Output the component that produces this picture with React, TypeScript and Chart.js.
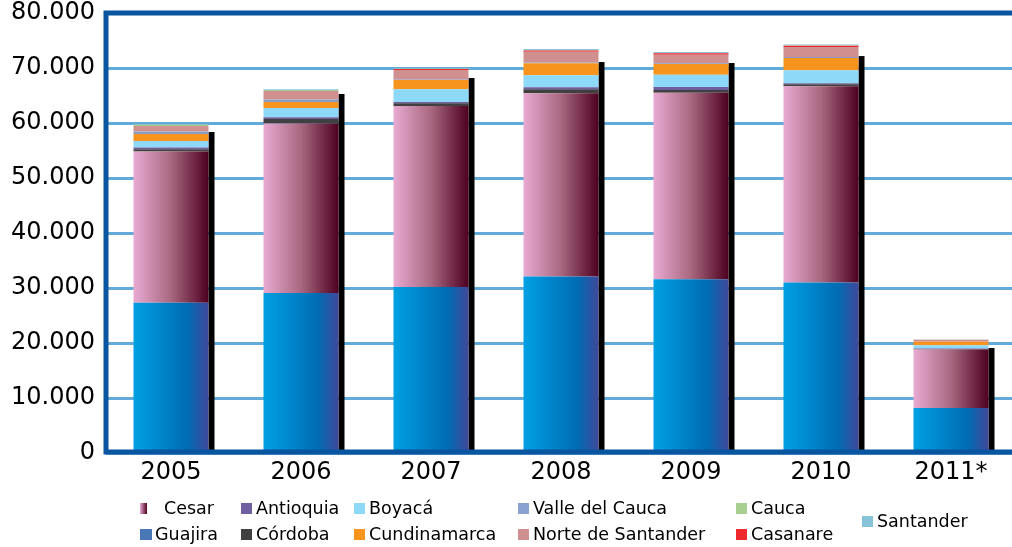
import React, { useEffect, useRef } from 'react';
import { Chart, registerables } from 'chart.js';

Chart.register(...registerables);

const years = ['2005', '2006', '2007', '2008', '2009', '2010', '2011*'];

const guajira = [27300, 29100, 30200, 32100, 31600, 31000, 8200];
const cesar = [27500, 30800, 32900, 33300, 33900, 35700, 10600];
const cordoba = [440, 850, 490, 730, 480, 360, 100];
const antioquia = [290, 300, 240, 360, 545, 180, 100];
const boyaca = [1220, 1700, 2310, 2180, 2240, 2360, 610];
const cundinamarca = [1270, 1090, 1690, 2180, 1940, 2240, 600];
const valleDelCauca = [420, 420, 100, 150, 150, 150, 0];
const norteDeSantander = [1030, 1570, 1690, 1940, 1570, 1820, 360];
const casanare = [0, 0, 180, 250, 250, 250, 0];
const cauca = [200, 150, 50, 50, 50, 50, 0];
const santander = [150, 150, 130, 200, 180, 180, 50];

// top of the black drop-shadow drawn to the right of each column (value units)
const shadowTotals = [58360, 65270, 68180, 71080, 70900, 72170, 19090];

const yTicks = [0, 10000, 20000, 30000, 40000, 50000, 60000, 70000, 80000];

const BAR_PCT = 0.577;

const fmt = (v: number) => (v === 0 ? '0' : String(v).replace(/\B(?=(\d{3})+(?!\d))/g, '.'));

const gradientFill = (stops: [number, string][]) => (ctx: any) => {
  const chart = ctx.chart;
  const xs = chart.scales && chart.scales.x;
  if (!xs || ctx.type !== 'data' || !chart.chartArea) return stops[0][1];
  const cx = xs.getPixelForValue(ctx.dataIndex);
  const half = (xs.width / years.length) * BAR_PCT / 2;
  const g = chart.ctx.createLinearGradient(cx - half, 0, cx + half, 0);
  stops.forEach(([o, c]) => g.addColorStop(o, c));
  return g;
};

const guajiraStops: [number, string][] = [[0, '#00a0e2'], [0.72, '#006cb4'], [1, '#40489a']];
const cesarStops: [number, string][] = [[0, '#e8aad2'], [0.5, '#a86880'], [1, '#4e0020']];

const seriesDefs = [
  { label: 'Guajira', data: guajira, color: gradientFill(guajiraStops) },
  { label: 'Cesar', data: cesar, color: gradientFill(cesarStops) },
  { label: 'Córdoba', data: cordoba, color: '#404040' },
  { label: 'Antioquia', data: antioquia, color: '#6f5ea0' },
  { label: 'Boyacá', data: boyaca, color: '#8ed8f8' },
  { label: 'Cundinamarca', data: cundinamarca, color: '#f7941d' },
  { label: 'Valle del Cauca', data: valleDelCauca, color: '#8a9cc8' },
  { label: 'Norte de Santander', data: norteDeSantander, color: '#d09090' },
  { label: 'Casanare', data: casanare, color: '#ee2a2f' },
  { label: 'Cauca', data: cauca, color: '#a8cf90' },
  { label: 'Santander', data: santander, color: '#86c2d8' },
];

const legendItems = [
  { label: 'Cesar', color: 'linear-gradient(to right, #e8aad2, #4e0020)', x: 140, row: 0, w: 7 },
  { label: 'Antioquia', color: '#6f5ea0', x: 241, row: 0, w: 11 },
  { label: 'Boyacá', color: '#8ed8f8', x: 354, row: 0, w: 11 },
  { label: 'Valle del Cauca', color: '#8aa2cf', x: 518, row: 0, w: 11 },
  { label: 'Cauca', color: '#a8cf90', x: 736, row: 0, w: 11 },
  { label: 'Guajira', color: '#4a78b6', x: 140, row: 1, w: 12 },
  { label: 'Córdoba', color: '#404040', x: 241, row: 1, w: 11 },
  { label: 'Cundinamarca', color: '#f7941d', x: 354, row: 1, w: 11 },
  { label: 'Norte de Santander', color: '#d09090', x: 518, row: 1, w: 11 },
  { label: 'Casanare', color: '#ee2a2f', x: 736, row: 1, w: 11 },
  { label: 'Santander', color: '#86c2d8', x: 862, row: 0.5, w: 11 },
];

const framePlugin = {
  id: 'frameAndShadow',
  beforeDatasetsDraw(chart: any) {
    const { ctx, scales } = chart;
    const y = scales.y;
    const meta = chart.getDatasetMeta(0);
    ctx.save();
    ctx.fillStyle = '#000000';
    meta.data.forEach((bar: any, i: number) => {
      const p = bar.getProps(['x', 'width'], true);
      const right = p.x + p.width / 2;
      const top = y.getPixelForValue(shadowTotals[i]);
      ctx.fillRect(right, top, 6, y.getPixelForValue(0) - top);
    });
    ctx.restore();
  },
  afterDraw(chart: any) {
    const { ctx, chartArea } = chart;
    ctx.save();
    ctx.strokeStyle = '#0a55a0';
    ctx.lineWidth = 5;
    ctx.beginPath();
    ctx.moveTo(chart.width, chartArea.top);
    ctx.lineTo(chartArea.left, chartArea.top);
    ctx.lineTo(chartArea.left, chartArea.bottom - 1);
    ctx.lineTo(chart.width, chartArea.bottom - 1);
    ctx.stroke();
    ctx.restore();
  },
};

export default function App() {
  const ref = useRef<HTMLCanvasElement>(null);

  useEffect(() => {
    const chart = new Chart(ref.current as HTMLCanvasElement, {
      type: 'bar',
      data: {
        labels: years,
        datasets: seriesDefs.map((s) => ({
          label: s.label,
          data: s.data,
          backgroundColor: s.color as any,
          borderWidth: 0,
          stack: 'a',
          categoryPercentage: 1,
          barPercentage: BAR_PCT,
        })),
      },
      options: {
        responsive: false,
        animation: false,
        devicePixelRatio: 1,
        layout: { padding: { top: 13, right: 14, left: 0, bottom: 0 } },
        plugins: { legend: { display: false }, tooltip: { enabled: false } },
        scales: {
          x: {
            stacked: true,
            grid: { display: false, drawTicks: false },
            border: { display: false },
            ticks: {
              color: '#000',
              padding: 5,
              font: { family: 'DejaVu Sans', size: 24 },
              maxRotation: 0,
              autoSkip: false,
            },
            afterFit: (s: any) => {
              s.height = 94;
              s.paddingLeft = 0;
              s.paddingRight = 0;
            },
          },
          y: {
            stacked: true,
            min: 0,
            max: 80000,
            grid: { color: '#62aad9', lineWidth: 3, drawTicks: false },
            border: { display: false },
            afterBuildTicks: (s: any) => {
              s.ticks = yTicks.map((v) => ({ value: v }));
            },
            ticks: {
              color: '#000',
              padding: 11,
              font: { family: 'DejaVu Sans', size: 24 },
              callback: (v: any) => fmt(Number(v)),
            },
            afterFit: (s: any) => {
              s.width = 106;
              s.paddingTop = 0;
              s.paddingBottom = 0;
            },
          },
        },
      },
      plugins: [framePlugin],
    });
    return () => chart.destroy();
  }, []);

  return (
    <div
      style={{
        position: 'fixed',
        left: 0,
        top: 0,
        width: 1012,
        height: 547,
        overflow: 'hidden',
        background: '#ffffff',
      }}
    >
      <canvas
        ref={ref}
        width={1030}
        height={547}
        style={{ position: 'absolute', left: 0, top: 0, width: 1030, height: 547 }}
      />
      {legendItems.map((it) => {
        const cy = 508 + it.row * 26;
        return (
          <div key={it.label}>
            <div
              style={{
                position: 'absolute',
                left: it.x,
                top: cy - 5.5,
                width: it.w,
                height: 11,
                background: it.color,
              }}
            />
            <div
              style={{
                position: 'absolute',
                left: it.x + (it.label === 'Cesar' ? 24 : 15),
                top: cy - 11,
                height: 22,
                lineHeight: '22px',
                fontFamily: 'DejaVu Sans',
                fontSize: 17.5,
                color: '#000',
                whiteSpace: 'nowrap',
              }}
            >
              {it.label}
            </div>
          </div>
        );
      })}
    </div>
  );
}
